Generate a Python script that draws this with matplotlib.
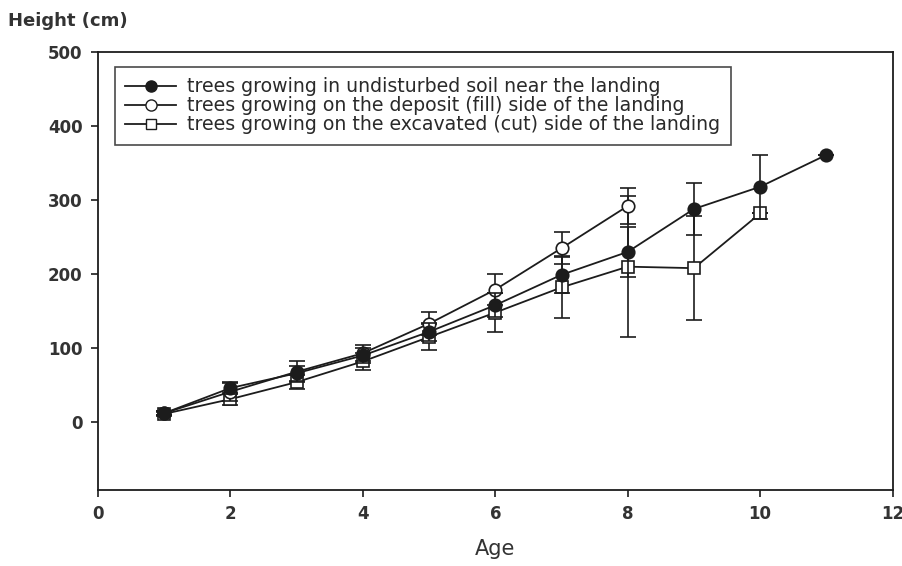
import matplotlib
matplotlib.use("Agg")
import matplotlib.pyplot as plt
from matplotlib.lines import Line2D

plt.rcParams['font.family'] = ['DejaVu Sans']

# Data
age_undisturbed = [1, 2, 3, 4, 5, 6, 7, 8, 9, 10, 11]
h_undisturbed = [12, 46, 66, 90, 122, 158, 199, 230, 288, 318, 361]
err_undisturbed = [3, 8, 10, 10, 12, 16, 24, 34, 35, 43, 0]

age_fill = [1, 2, 3, 4, 5, 6, 7, 8]
h_fill = [12, 41, 68, 93, 133, 179, 235, 292]
err_fill = [3, 12, 14, 11, 16, 21, 22, 24]

age_cut = [1, 2, 3, 4, 5, 6, 7, 8, 9, 10]
h_cut = [11, 31, 54, 82, 115, 148, 182, 210, 208, 282]
err_cut = [3, 8, 9, 11, 18, 26, 42, 95, 70, 0]

labels = [
    "trees growing in undisturbed soil near the landing",
    "trees growing on the deposit (fill) side of the landing",
    "trees growing on the excavated (cut) side of the landing",
]
xticks = [0, 2, 4, 6, 8, 10, 12]
yticks = [0, 100, 200, 300, 400, 500]

ink = '#1c1c1c'
fig = plt.figure(figsize=(9.03, 5.66), dpi=100)
ax = fig.add_axes([0.1085, 0.134, 0.880, 0.774])

common = dict(color=ink, lw=1.3, capsize=6, elinewidth=1.2, capthick=1.2, mew=1.2)
ax.errorbar(age_cut, h_cut, yerr=err_cut, marker='s', ms=8.5, mfc='white', mec=ink, zorder=3, **common)
ax.errorbar(age_fill, h_fill, yerr=err_fill, marker='o', ms=9, mfc='white', mec=ink, zorder=4, **common)
ax.errorbar(age_undisturbed, h_undisturbed, yerr=err_undisturbed, marker='o', ms=9, mfc=ink, mec=ink, zorder=5, **common)

ax.set_xlim(0, 12)
ax.set_ylim(-92, 500)
ax.set_xticks(xticks)
ax.set_yticks(yticks)
ax.tick_params(direction='out', length=5, width=1.2, colors=ink, labelsize=12, pad=6)
for lab in ax.get_xticklabels() + ax.get_yticklabels():
    lab.set_fontweight('bold')
    lab.set_color('#333333')
for s in ax.spines.values():
    s.set_linewidth(1.3)
    s.set_color(ink)

fig.text(0.009, 0.963, "Height (cm)", fontsize=13, fontweight='bold', color='#333333', ha='left', va='center')
ax.set_xlabel("Age", fontsize=15, color='#333333', labelpad=11)

handles = [
    Line2D([], [], color=ink, lw=1.3, marker='o', ms=8, mfc=ink, mec=ink),
    Line2D([], [], color=ink, lw=1.3, marker='o', ms=8, mfc='white', mec=ink),
    Line2D([], [], color=ink, lw=1.3, marker='s', ms=7.5, mfc='white', mec=ink),
]
leg = ax.legend(handles, labels,
                loc='upper left', bbox_to_anchor=(0.021, 0.966), frameon=True, fancybox=False,
                edgecolor=ink, fontsize=13.6, handlelength=2.7, handletextpad=0.6,
                labelspacing=0.0, borderpad=0.55, borderaxespad=0)
leg.get_frame().set_linewidth(1.2)
for t in leg.get_texts():
    t.set_color('#2a2a2a')

fig.savefig("out.png", dpi=100)
